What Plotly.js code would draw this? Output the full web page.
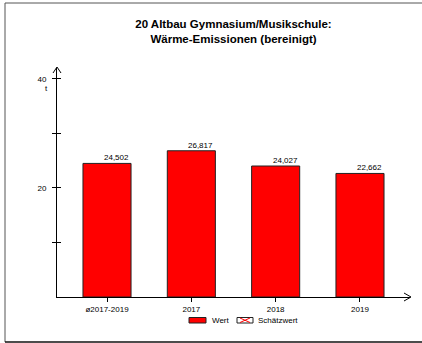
<!DOCTYPE html>
<html><head><meta charset="utf-8">
<script src="https://cdn.plot.ly/plotly-3.0.1.min.js"></script>
<style>html,body{margin:0;padding:0;background:#fff}#c{width:422px;height:343px}</style>
</head><body><div id="c"></div>
<script>
var categories = ['ø2017-2019', '2017', '2018', '2019'];
var values = [24.502, 26.817, 24.027, 22.662];
var yTickVals = [10, 20, 30, 40];
var yTickText = ['', '20', '', '40'];
var titleText = '<b>20 Altbau Gymnasium/Musikschule:<br>Wärme-Emissionen (bereinigt)</b>';
var unitText = 't';
var legendNames = ['Wert', 'Schätzwert'];

var W = 422, H = 343, L = 57, R = 12, T = 68, B = 46;
var pw = W - L - R, ph = H - T - B;
function px(x) { return (x - L) / pw; }
function py(y) { return (H - B - y) / ph; }
function fmt(v) { return v.toFixed(3).replace('.', ','); }

var font = 'Arial, "Liberation Sans", sans-serif';
var shapes = [];
// frame (left, top, bottom)
shapes.push({type:'line', xref:'paper', yref:'paper', x0:px(5), x1:px(5), y0:py(3), y1:py(342), line:{color:'#555', width:1}});
shapes.push({type:'line', xref:'paper', yref:'paper', x0:px(5), x1:px(422), y0:py(3), y1:py(3), line:{color:'#555', width:1}});
shapes.push({type:'line', xref:'paper', yref:'paper', x0:px(5), x1:px(422), y0:py(342), y1:py(342), line:{color:'#111', width:1.5}});
// arrowheads
shapes.push({type:'path', xref:'paper', yref:'paper', path:'M'+px(53)+','+py(73)+' L'+px(57)+','+py(67)+' L'+px(61)+','+py(73), line:{color:'#000', width:1}});
shapes.push({type:'path', xref:'paper', yref:'paper', path:'M'+px(404)+','+py(293)+' L'+px(411)+','+py(297)+' L'+px(404)+','+py(301), line:{color:'#000', width:1}});
// legend
shapes.push({type:'rect', xref:'paper', yref:'paper', x0:px(189), x1:px(206), y0:py(317.5), y1:py(323), fillcolor:'#ff0000', line:{color:'#222', width:1}});
shapes.push({type:'rect', xref:'paper', yref:'paper', x0:px(237), x1:px(253), y0:py(317.5), y1:py(323), fillcolor:'#fff', line:{color:'#222', width:1}});
shapes.push({type:'path', xref:'paper', yref:'paper', path:'M'+px(240)+','+py(318)+' L'+px(250)+','+py(322.5)+' M'+px(240)+','+py(322.5)+' L'+px(250)+','+py(318), line:{color:'#ff0000', width:1}});

var annotations = [];
values.forEach(function(v, i) {
  annotations.push({x: i, y: v, xref:'x', yref:'y', text: fmt(v), showarrow:false,
    xanchor:'right', yanchor:'bottom', xshift: 24, yshift: -1, font:{family:font, size:8, color:'#000'}});
});
annotations.push({xref:'paper', yref:'paper', x:px(49.5), y:py(88), text:unitText, showarrow:false, xanchor:'right', yanchor:'middle', font:{family:font, size:8, color:'#000'}});
annotations.push({xref:'paper', yref:'paper', x:px(210), y:py(320), text:legendNames[0], showarrow:false, xanchor:'left', yanchor:'middle', font:{family:font, size:8, color:'#000'}});
annotations.push({xref:'paper', yref:'paper', x:px(256), y:py(320), text:legendNames[1], showarrow:false, xanchor:'left', yanchor:'middle', font:{family:font, size:8, color:'#000'}});

var data = [
  {type:'bar', x: categories, y: values, width: 0.57, name: legendNames[0],
   marker:{color:'#ff0000', line:{color:'#222', width:1}}, hoverinfo:'none', showlegend:false},
  {type:'scatter', x:[categories[0]], y:[null], yaxis:'y2', showlegend:false, hoverinfo:'none'}
];

var layout = {
  width: W, height: H,
  margin: {l:L, r:R, t:T, b:B, pad:0},
  paper_bgcolor:'#fff', plot_bgcolor:'#fff',
  showlegend:false,
  title: {text: titleText, x: 0.5, xref:'paper', xanchor:'center', y: 1 - 28/H, yanchor:'middle',
          font:{family:font, size:11.5, color:'#000'}},
  xaxis: {type:'category', range:[-0.593, 3.593], showline:true, linecolor:'#000', linewidth:1,
          showgrid:false, zeroline:false, ticks:'outside', ticklen:4, tickcolor:'#000',
          tickfont:{family:font, size:8, color:'#000'}, fixedrange:true},
  yaxis: {range:[0, 42], showline:true, linecolor:'#000', linewidth:1, showgrid:false, zeroline:false,
          tickmode:'array', tickvals:yTickVals, ticktext:yTickText, ticks:'outside', ticklen:4, tickcolor:'#000',
          tickfont:{family:font, size:8, color:'#000'}, ticklabelstandoff:4, fixedrange:true},
  yaxis2: {range:[0, 42], overlaying:'y', side:'left', showline:false, showgrid:false, zeroline:false,
          tickmode:'array', tickvals:yTickVals, ticktext:['','','',''], ticks:'inside', ticklen:4, tickcolor:'#000',
          showticklabels:false, fixedrange:true},
  shapes: shapes,
  annotations: annotations
};
Plotly.newPlot('c', data, layout, {displayModeBar:false, staticPlot:true});
</script></body></html>
